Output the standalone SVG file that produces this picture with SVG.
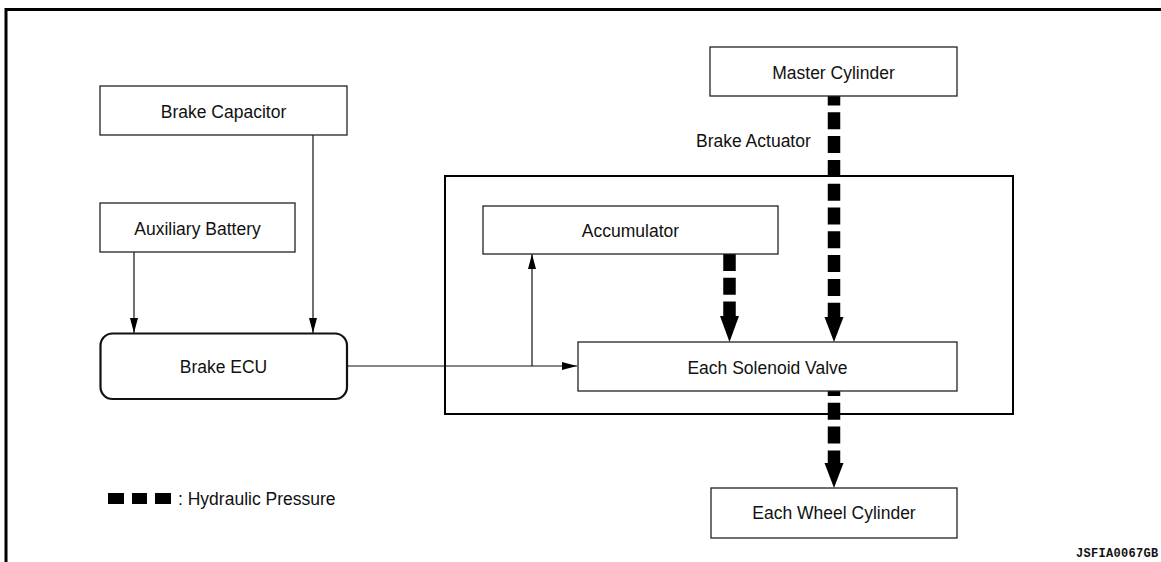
<svg xmlns="http://www.w3.org/2000/svg" width="1161" height="562" viewBox="0 0 1161 562">
<style>
.box{fill:#fff;stroke:#222;stroke-width:1.3}
.ecu{fill:#fff;stroke:#111;stroke-width:2.2}
.lbl{font-family:"Liberation Sans",Arial,Helvetica,sans-serif;font-size:17.5px;fill:#111;text-anchor:middle}
.txt{font-family:"Liberation Sans",Arial,Helvetica,sans-serif;font-size:17.5px;fill:#111}
.thin{stroke:#111;stroke-width:1.2;fill:none}
.hyd{stroke:#000;stroke-width:12.5;fill:none;stroke-dasharray:17 6.8}
.head{fill:#000}
</style>
<defs>
<marker id="arr" viewBox="0 0 15 8" refX="15" refY="4" markerWidth="15" markerHeight="8" markerUnits="userSpaceOnUse" orient="auto">
<path d="M0,0 L15,4 L0,8 z" fill="#000"/>
</marker>
</defs>
<rect x="0" y="0" width="1161" height="562" fill="#fff"/>
<g id="frame">
<path d="M6,562 V9.5 H1161" fill="none" stroke="#000" stroke-width="3"/>
</g>
<g id="actuator">
<rect x="445" y="176" width="568" height="238" fill="none" stroke="#000" stroke-width="2"/>
<text class="txt" x="696" y="147">Brake Actuator</text>
</g>
<g id="connectors">
<path class="thin" d="M313,135 V333" marker-end="url(#arr)"/>
<path class="thin" d="M134,252 V333" marker-end="url(#arr)"/>
<path class="thin" d="M347,366 H577" marker-end="url(#arr)"/>
<path class="thin" d="M532,366 V254" marker-end="url(#arr)"/>
<path class="hyd" d="M834,96 V318" stroke-dashoffset="7.5"/>
<polygon class="head" points="824.5,317 843.5,317 834,342"/>
<path class="hyd" d="M729.5,254 V317"/>
<polygon class="head" points="720,316 739,316 729.5,342"/>
<path class="hyd" d="M834,391 V464" stroke-dashoffset="12"/>
<polygon class="head" points="824.5,463 843.5,463 834,488"/>
</g>
<g id="brake-capacitor">
<rect class="box" x="100" y="86" width="247" height="49"/>
<text class="lbl" x="223.5" y="118">Brake Capacitor</text>
</g>
<g id="auxiliary-battery">
<rect class="box" x="100" y="203" width="195" height="49"/>
<text class="lbl" x="197.5" y="234.5">Auxiliary Battery</text>
</g>
<g id="brake-ecu">
<rect class="ecu" x="100.5" y="333.5" width="246.5" height="65.5" rx="12" ry="12"/>
<text class="lbl" x="223.5" y="373">Brake ECU</text>
</g>
<g id="master-cylinder">
<rect class="box" x="710" y="47" width="247" height="49"/>
<text class="lbl" x="833.5" y="78.5">Master Cylinder</text>
</g>
<g id="accumulator">
<rect class="box" x="483" y="206" width="295" height="48"/>
<text class="lbl" x="630.5" y="237">Accumulator</text>
</g>
<g id="each-solenoid-valve">
<rect class="box" x="578" y="342" width="379" height="49"/>
<text class="lbl" x="767.5" y="373.5">Each Solenoid Valve</text>
</g>
<g id="each-wheel-cylinder">
<rect class="box" x="711" y="488" width="246" height="50"/>
<text class="lbl" x="834" y="519">Each Wheel Cylinder</text>
</g>
<g id="legend">
<rect x="108" y="493" width="16" height="11" fill="#000"/>
<rect x="132" y="493" width="15" height="11" fill="#000"/>
<rect x="155" y="493" width="16" height="11" fill="#000"/>
<text class="txt" x="178" y="504.5">: Hydraulic Pressure</text>
</g>
<text x="1076" y="557" font-family="'Liberation Mono','Courier New',monospace" font-weight="bold" font-size="12" letter-spacing="0.3" fill="#111">JSFIA0067GB</text>
</svg>
